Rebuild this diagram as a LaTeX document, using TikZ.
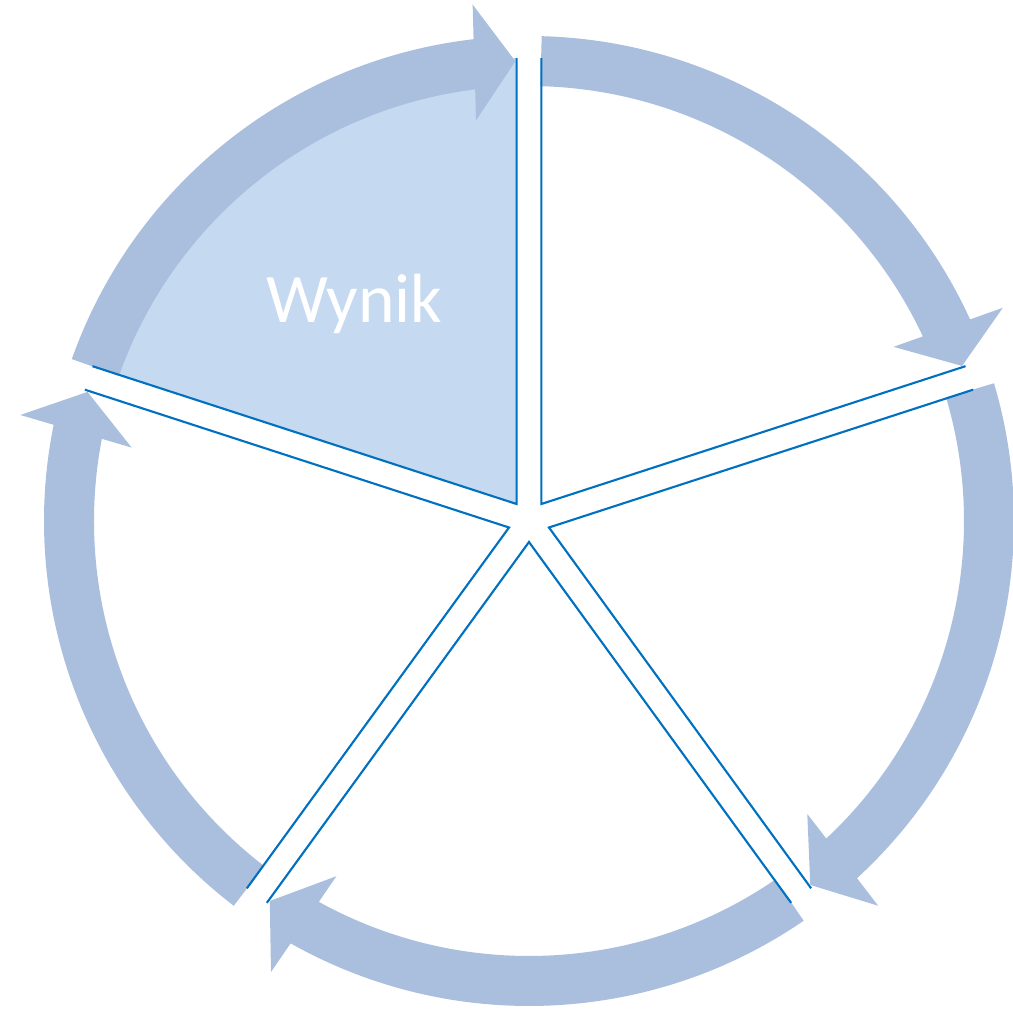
\documentclass[tikz,border=0pt]{standalone}
\usepackage{fontspec}
\setmainfont{Carlito}
\definecolor{ringblue}{RGB}{170,191,221}
\definecolor{wynikfill}{RGB}{197,217,241}
\definecolor{edgeblue}{RGB}{0,112,192}

\begin{document}
\begin{tikzpicture}[
  ring/.style={fill=ringblue},
  edge/.style={draw=edgeblue, line width=0.6pt, line join=miter},
]
  \useasboundingbox (-5.29,-4.89) rectangle (4.84,5.21);

  % Pie segments, each pulled out along its middle
  \foreach \b/\col in {126/wynikfill, 54/white, -18/white, -90/white, -162/white} {
    \begin{scope}[rotate=\b]
      \fill[\col] (0.21,0) -- ++(36:4.46) arc[start angle=36, end angle=-36, radius=4.46] -- cycle;
    \end{scope}
  }

  % Curved arrows round the outside, clockwise
  \foreach \b in {126,54,-18,-90,-162} {
    \begin{scope}[rotate=\b]
      \fill[ring] (34.5:4.85) arc[start angle=34.5, end angle=-29.44, radius=4.85]
        -- (4.510,-2.580) -- (-34.3:4.60) -- (3.552,-1.926)
        -- (-28.89:4.35) arc[start angle=-28.89, end angle=34.5, radius=4.35] -- cycle;
    \end{scope}
  }

  % Straight sides of the segments
  \foreach \b in {126,54,-18,-90,-162} {
    \begin{scope}[rotate=\b]
      \draw[edge] (0.21,0) ++(36:4.46) -- (0.21,0) -- ++(-36:4.46);
    \end{scope}
  }

  \node[text=white, font=\fontsize{19.8}{24}\selectfont, anchor=base] (wynik) at (-1.745,1.98) {Wynik};
\end{tikzpicture}
\end{document}
